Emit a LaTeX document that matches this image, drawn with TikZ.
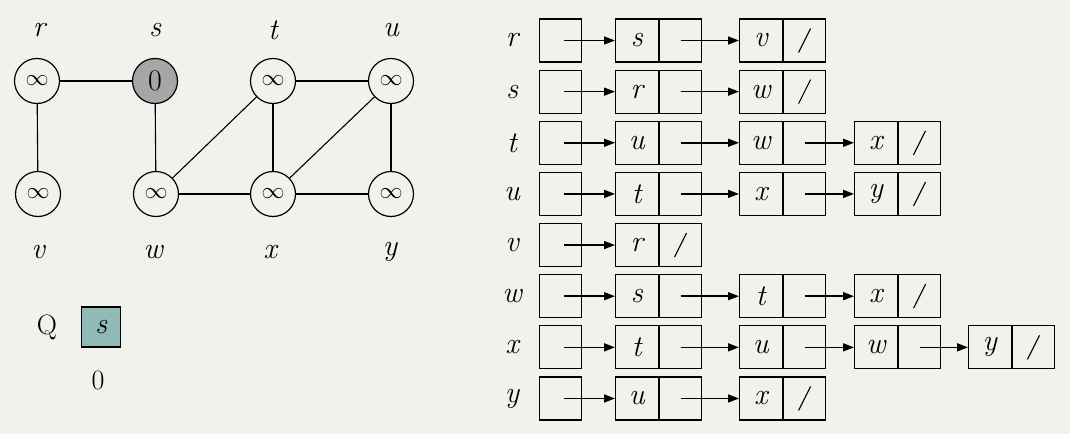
\RequirePackage{fix-cm}
\documentclass[tikz,border=0pt]{standalone}
\usepackage{fontspec}
\usetikzlibrary{arrows.meta}
\definecolor{bgcol}{HTML}{F1F1EE}
\definecolor{scol}{HTML}{A6A6A6}
\definecolor{qcol}{HTML}{8FBAB6}
\begin{document}
\begin{tikzpicture}[x=1pt,y=-1pt,
  vert/.style={circle,draw,line width=1.2pt,minimum size=45pt,inner sep=0pt,font=\fontsize{23}{23}\selectfont},
  lbl/.style={inner sep=0pt,font=\fontsize{30}{30}\selectfont\itshape},
  rom/.style={inner sep=0pt,font=\fontsize{28}{28}\selectfont},
  cell/.style={draw,line width=1.2pt,minimum width=42.5pt,minimum height=43pt,inner sep=0pt,font=\fontsize{30}{30}\selectfont\itshape},
  ptr/.style={line width=1.5pt,-{Triangle[length=11pt,width=8pt]}},
  edge/.style={line width=1.1pt}]
\fill[bgcol] (0,0) rectangle (1070,434);
\useasboundingbox (0,0) rectangle (1070,434);
% graph
\node[vert] (r) at (37,81) {$\infty$};
\node[vert,fill=scol,font=\fontsize{30}{30}\selectfont] (s) at (155,81) {0};
\node[vert] (t) at (273,81) {$\infty$};
\node[vert] (u) at (391,81) {$\infty$};
\node[vert] (v) at (38,194) {$\infty$};
\node[vert] (w) at (156,194) {$\infty$};
\node[vert] (x) at (273,194) {$\infty$};
\node[vert] (y) at (391,194) {$\infty$};
\draw[edge] (r) -- (s);
\draw[edge] (r) -- (v);
\draw[edge] (s) -- (w);
\draw[edge] (w) -- (t);
\draw[edge] (w) -- (x);
\draw[edge] (t) -- (x);
\draw[edge] (t) -- (u);
\draw[edge] (x) -- (u);
\draw[edge] (x) -- (y);
\draw[edge] (u) -- (y);
\node[lbl] (lr) at (39,30) {r};
\node[lbl] (ls) at (155,30) {s};
\node[lbl] (lt) at (273,30) {t};
\node[lbl] (lu) at (391,30) {u};
\node[lbl] (lv) at (38,252) {v};
\node[lbl] (lw) at (153,252) {w};
\node[lbl] (lx) at (270,252) {x};
\node[lbl] (ly) at (390,252) {y};
% queue
\node[rom] (Q) at (47,327) {Q};
\node[draw,line width=1.2pt,fill=qcol,minimum width=39pt,minimum height=40pt,inner sep=0pt,font=\fontsize{30}{30}\selectfont\itshape] (qs) at (101,327) {s};
\node[rom] (q0) at (98,380) {0};
% adjacency lists
\foreach \nm/\i/\lst in {r/0/{s,v},s/1/{r,w},t/2/{u,w,x},u/3/{t,x,y},v/4/{r},w/5/{s,t,x},x/6/{t,u,w,y},y/7/{u,x}}{
  \pgfmathsetmacro\yc{40.5+51.14*\i}
  \node[lbl] (L\nm) at (512,\yc) {\nm};
  \node[cell] (H\nm) at (560.5,\yc) {};
  \foreach \k [count=\j] in \lst {
    \pgfmathsetmacro\xl{{615,739,854,968}[\j-1]}
    \node[cell,anchor=west] (K\nm\j) at (\xl,\yc) {\k};
    \node[cell,anchor=west] (P\nm\j) at (K\nm\j.east) {};
    \ifnum\j=1
      \draw[ptr] ([xshift=3pt]H\nm.center) -- (K\nm\j.west);
    \else
      \pgfmathtruncatemacro\pj{\j-1}
      \draw[ptr] (P\nm\pj.center) -- (K\nm\j.west);
    \fi
    \xdef\lastj{\j}
  }
  \draw[line width=1.1pt] ([shift={(-6,12)}]P\nm\lastj.center) -- ([shift={(6,-12)}]P\nm\lastj.center);
}
\end{tikzpicture}
\end{document}
